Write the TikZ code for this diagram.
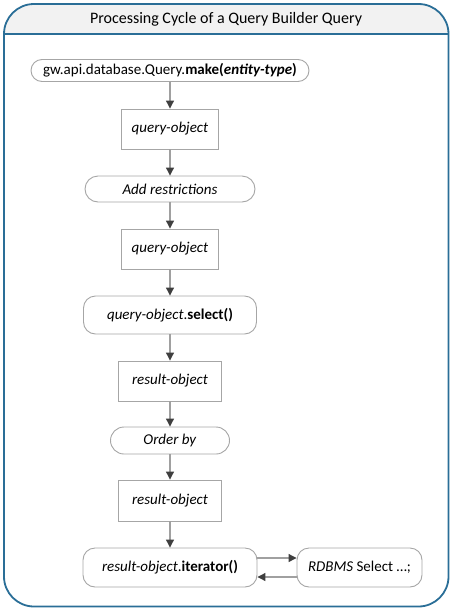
\documentclass[tikz,border=0pt]{standalone}
\usepackage{fontspec}
\setmainfont{Carlito}
\usetikzlibrary{arrows.meta}
\definecolor{frame}{HTML}{2A6E97}
\definecolor{headfill}{HTML}{F2F2F2}
\definecolor{boxline}{HTML}{A6A6A6}
\definecolor{arrline}{HTML}{A0A0A0}
\definecolor{tipcol}{HTML}{3F3F3F}
\tikzset{
  base/.style={draw=boxline, line width=0.9pt, fill=white, inner sep=0pt, align=center,
    font=\fontsize{15}{18}\selectfont, text=black},
  objbox/.style={base},
  stadium/.style={base, rounded corners=#1},
  flow/.style={draw=arrline, line width=1.1pt, -{Triangle[color=tipcol, length=8pt, width=8pt]}},
}
\begin{document}
\begin{tikzpicture}[x=1pt, y=-1pt]
\useasboundingbox (0,0) rectangle (453,611);
% outer frame
\fill[headfill, rounded corners=30pt] (4,34.5) -- (4,4) -- (448.5,4) -- (448.5,34.5);
\draw[frame, line width=1.3pt] (4,34) -- (448.5,34);
\draw[frame, line width=1.8pt, rounded corners=30pt] (4,4) rectangle (448.5,606.5);
\node[font=\fontsize{16}{19}\selectfont] (title) at (226,19) {Processing Cycle of a Query Builder Query};

% nodes
\node[stadium=11pt, minimum width=278pt, minimum height=22pt] (make) at (170,70.5)
  {gw.api.database.Query.\textbf{make(\textit{entity-type})}};
\node[objbox, minimum width=97pt, minimum height=40pt] (q1) at (170,129) {\textit{query-object}};
\node[stadium=13pt, minimum width=170pt, minimum height=26pt] (add) at (170,189) {\textit{Add restrictions}};
\node[objbox, minimum width=97pt, minimum height=40pt] (q2) at (170,249) {\textit{query-object}};
\node[stadium=12pt, minimum width=173pt, minimum height=38pt] (sel) at (170,315)
  {\textit{query-object}.\textbf{select()}};
\node[objbox, minimum width=103pt, minimum height=40pt] (r1) at (170,381) {\textit{result-object}};
\node[stadium=13.5pt, minimum width=119pt, minimum height=27pt] (order) at (170,440.5) {\textit{Order by}};
\node[objbox, minimum width=103pt, minimum height=41pt] (r2) at (170,500.5) {\textit{result-object}};
\node[stadium=12pt, minimum width=174pt, minimum height=39pt] (iter) at (170,567.5)
  {\textit{result-object}.\textbf{iterator()}};
\node[stadium=12pt, minimum width=125pt, minimum height=39pt] (rdb) at (359.5,567.5)
  {\textit{RDBMS} Select …;};

% connectors
\draw[flow] (make) -- (q1);
\draw[flow] (q1) -- (add);
\draw[flow] (add) -- (q2);
\draw[flow] (q2) -- (sel);
\draw[flow] (sel) -- (r1);
\draw[flow] (r1) -- (order);
\draw[flow] (order) -- (r2);
\draw[flow] (r2) -- (iter);
\draw[flow] ([yshift=9.5pt]iter.east) -- ([yshift=9.5pt]rdb.west);
\draw[flow] ([yshift=-9.5pt]rdb.west) -- ([yshift=-9.5pt]iter.east);
\end{tikzpicture}
\end{document}
